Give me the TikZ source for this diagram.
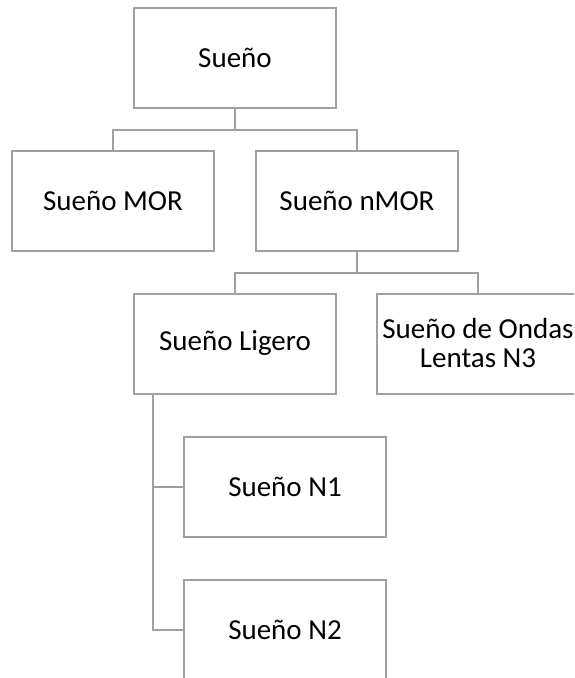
\documentclass[tikz,border=0pt]{standalone}
\usepackage{fontspec}
\setmainfont{Carlito}
\definecolor{linegray}{RGB}{160,160,160}
\begin{document}
\begin{tikzpicture}[x=1pt,y=-1pt,
  box/.style={draw=linegray, line width=2pt, minimum width=202pt, minimum height=100pt,
    inner sep=0pt, align=center, font=\fontsize{29}{29}\selectfont},
  conn/.style={draw=linegray, line width=2pt}]
\clip (0,0) rectangle (574,678);
\useasboundingbox (0,0) rectangle (574,678);
\node[box] (root) at (235,58) {Sueño};
\node[box] (mor) at (113,200.5) {Sueño MOR};
\node[box] (nmor) at (357,200.5) {Sueño nMOR};
\node[box] (lig) at (235,343.5) {Sueño Ligero};
\node[box] (ond) at (478,343.5) {Sueño de Ondas\\Lentas N3};
\node[box] (n1) at (285,487) {Sueño N1};
\node[box] (n2) at (285,629.5) {Sueño N2};
\draw[conn] (root.south) -- ++(0,20.5) -| (mor.north);
\draw[conn] (root.south) ++(0,20.5) -| (nmor.north);
\draw[conn] (nmor.south) -- ++(0,21) -| (lig.north);
\draw[conn] (nmor.south) ++(0,21) -| (ond.north);
\coordinate (lb) at ([xshift=20pt]lig.south west);
\draw[conn] (lb) |- (n1.west);
\draw[conn] (lb) |- (n2.west);
\end{tikzpicture}
\end{document}
